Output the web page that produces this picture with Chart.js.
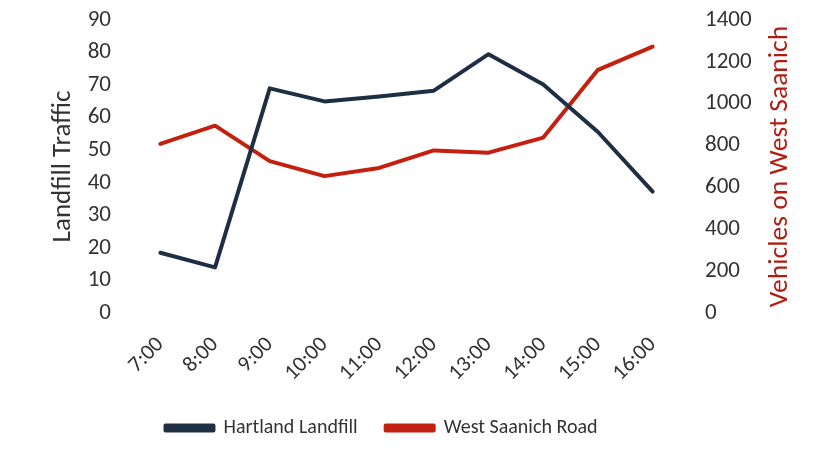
<!DOCTYPE html>
<html>
<head>
<meta charset="utf-8">
<script src="https://cdn.jsdelivr.net/npm/chart.js@4"></script>
<style>
html,body{margin:0;padding:0;background:#fff;}
#wrap{width:813px;height:464px;position:relative;}
</style>
</head>
<body>
<div id="wrap"><canvas id="c" width="813" height="464"></canvas></div>
<script>
const categories = ["7:00","8:00","9:00","10:00","11:00","12:00","13:00","14:00","15:00","16:00"];
const hartlandLandfill = [18.5, 14, 69, 65, 66.5, 68.3, 79.5, 70.2, 55.6, 37.3];
const westSaanichRoad = [808, 895, 726, 654, 693, 777, 766, 838, 1162, 1273];
const leftTicks = [0,10,20,30,40,50,60,70,80,90];
const rightTicks = [0,200,400,600,800,1000,1200,1400];

const FONT = "Carlito, Lato, 'Liberation Sans', sans-serif";
const TXT = '#333333';

const rightTitle = {
  id: 'rightTitle',
  afterLayout(chart) {
    if (chart.legend) { chart.legend.left = 0; chart.legend.right = 763; }
  },
  afterDraw(chart) {
    const ctx = chart.ctx;
    const a = chart.chartArea;
    ctx.save();
    ctx.translate(780, (a.top + a.bottom) / 2);
    ctx.rotate(-Math.PI / 2);
    ctx.fillStyle = '#b01e12';
    ctx.font = "27.5px " + FONT;
    ctx.textAlign = 'center';
    ctx.textBaseline = 'middle';
    ctx.fillText('Vehicles on West Saanich', 0, 0);
    ctx.restore();
  }
};

function fixY(w) {
  return function (s) { s.width = w; s.paddingTop = 0; s.paddingBottom = 0; };
}

new Chart(document.getElementById('c'), {
  type: 'line',
  data: {
    labels: categories,
    datasets: [
      { label: 'Hartland Landfill', data: hartlandLandfill, yAxisID: 'y',
        borderColor: '#1e2f44', backgroundColor: '#1e2f44', borderWidth: 4,
        pointRadius: 0, tension: 0, borderCapStyle: 'round', borderJoinStyle: 'round' },
      { label: 'West Saanich Road', data: westSaanichRoad, yAxisID: 'y2',
        borderColor: '#c4200f', backgroundColor: '#c4200f', borderWidth: 4,
        pointRadius: 0, tension: 0, borderCapStyle: 'round', borderJoinStyle: 'round' }
    ]
  },
  options: {
    responsive: false,
    animation: false,
    layout: { padding: { top: 20, bottom: 16, left: 0, right: 0 } },
    plugins: {
      tooltip: { enabled: false },
      legend: {
        position: 'bottom',
        labels: {
          boxWidth: 48, boxHeight: 5, padding: 28, color: TXT,
          font: { family: FONT, size: 20 }
        }
      }
    },
    scales: {
      x: {
        offset: true,
        grid: { display: false, drawTicks: false },
        border: { display: false },
        ticks: { color: TXT, font: { family: FONT, size: 22 }, minRotation: 45, maxRotation: 45, padding: 19, autoSkip: false },
        afterFit(s) { s.height = 77; }
      },
      y: {
        position: 'left', min: 0, max: 90,
        afterBuildTicks(s) { s.ticks = leftTicks.map(v => ({ value: v })); },
        grid: { display: false, drawTicks: false },
        border: { display: false },
        ticks: { color: TXT, font: { family: FONT, size: 23 }, padding: 22, callback: v => String(v) },
        title: { display: true, text: 'Landfill Traffic', color: TXT, font: { family: FONT, size: 27 }, padding: { top: 47, bottom: 0 } },
        afterFit: fixY(133)
      },
      y2: {
        position: 'right', min: 0, max: 1400,
        afterBuildTicks(s) { s.ticks = rightTicks.map(v => ({ value: v })); },
        grid: { display: false, drawTicks: false },
        border: { display: false },
        ticks: { color: TXT, font: { family: FONT, size: 23 }, padding: 25, callback: v => String(v) },
        afterFit: fixY(133)
      }
    }
  },
  plugins: [rightTitle]
});
</script>
</body>
</html>
